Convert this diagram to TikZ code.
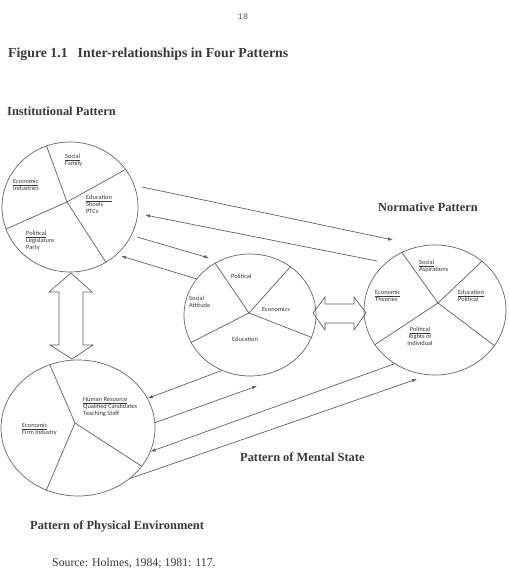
\documentclass[tikz,border=0pt]{standalone}
\usepackage{fontspec}
\setmainfont{Liberation Serif}
\newfontfamily\labelfont{Carlito}
\newfontfamily\pagefont{Liberation Mono}
\usetikzlibrary{arrows.meta,shapes.geometric}

\begin{document}
\begin{tikzpicture}
[
x=1pt, y=-1pt
, >={Latex[length=5pt,width=3.5pt]}
, every node/.style={inner sep=0pt, text=black!78}
, pattern/.style={ellipse, draw=black!60, line width=.7pt}
, link/.style={draw=black!62, line width=.7pt}
, lbl/.style={font=\labelfont\fontsize{6.4}{6.8}\selectfont, align=left, anchor=west}
, head/.style={font=\bfseries\fontsize{12.4}{14}\selectfont, anchor=west}
]

\useasboundingbox (0,0) rectangle (508,577);

% page heading
\node[font=\pagefont\fontsize{8.5}{10}\selectfont, text=black!65] (page) at (243,17) {18};
\node[head, font=\bfseries\fontsize{13.8}{16}\selectfont] (title) at (8,54) {Figure 1.1\hspace{10pt}Inter-relationships in Four Patterns};

% the four patterns
\node[pattern, minimum width=136, minimum height=130] (inst) at (70,207) {};
\node[pattern, minimum width=132, minimum height=122] (mid) at (250,315) {};
\node[pattern, minimum width=142, minimum height=130] (norm) at (435,310) {};
\node[pattern, minimum width=154, minimum height=136] (phys) at (78,428) {};

% sectors
\coordinate (instc) at (67,202);
\coordinate (midc) at (249,313);
\coordinate (normc) at (438,303);
\coordinate (physc) at (75,423);
\foreach \a in {111,34,199,303} \draw[link] (instc) -- (inst.\a);
\foreach \a in {124,50,-20,205} \draw[link] (midc) -- (mid.\a);
\foreach \a in {120,46,-31,210} \draw[link] (normc) -- (norm.\a);
\foreach \a in {114,-31,243} \draw[link] (physc) -- (phys.\a);

% sector labels
\node[lbl] (isoc) at (65,160.5) {\underline{Social}\\Family};
\node[lbl] (ieco) at (13,185) {\underline{Economic}\\Industries};
\node[lbl] (iedu) at (86,204.5) {\underline{Education}\\Shools\\PTCs};
\node[lbl] (ipol) at (26,240.5) {\underline{Political}\\Legislature\\Party};

\node[lbl] (mpol) at (231,276) {Political};
\node[lbl] (msoc) at (189,302) {Social\\Attitude};
\node[lbl] (meco) at (262,309) {Economics};
\node[lbl] (medu) at (232,339) {Education};

\node[lbl] (nsoc) at (419,266) {\underline{Social}\\Aspirations};
\node[lbl] (neco) at (375,296) {\underline{Economic}\\Theories};
\node[lbl] (nedu) at (458,296) {\underline{Education}\\Political};
\node[lbl, align=center, anchor=center] (npol) at (420,336.5) {\underline{Political}\\Rights of\\Individual};

\node[lbl] (phum) at (83,406.7) {\underline{Human Resource}\\Qualified Candidates\\Teaching Staff};
\node[lbl] (peco) at (22,429.5) {\underline{Economic}\\Firm Industry};

% pattern names
\node[head] (ihead) at (7,111) {Institutional Pattern};
\node[head] (nhead) at (378,207) {Normative Pattern};
\node[head] (mhead) at (240,457) {Pattern of Mental State};
\node[head] (phead) at (30,526) {Pattern of Physical Environment};
\node[anchor=west, font=\fontsize{11.8}{14}\selectfont] (source) at (52,563) {Source: Holmes, 1984; 1981: 117.};

% arrows
\coordinate (i1) at (142,187);
\coordinate (i2) at (145,215);
\coordinate (i3) at (137,237);
\coordinate (i4) at (121,256);
\coordinate (n1) at (393,240);
\coordinate (n2) at (377,261);
\coordinate (m1) at (209,258);
\coordinate (m4) at (257,386);
\coordinate (n4) at (417,379);
\draw[link,->] (i1) -- (n1);
\draw[link,->] (n2) -- (i2);
\draw[link,->] (i3) -- (m1);
\draw[link,->] (mid.146) -- (i4);
\draw[link,->] (mid.243) -- (phys.23);
\draw[link,->] (phys.4) -- (m4);
\draw[link,->] (norm.233) -- (phys.-18);
\draw[link,->] (phys.-44) -- (n4);

% big double arrows
\draw[link] (71,273) -- (92,292) -- (83,292) -- (83,345) -- (93,345) -- (72,359)
  -- (50,345) -- (59,345) -- (59,292) -- (49,292) -- cycle;
\draw[link] (313,313) -- (325,297) -- (325,304) -- (354,304) -- (354,297) -- (366,313)
  -- (354,330) -- (354,323) -- (325,323) -- (325,330) -- cycle;

\end{tikzpicture}
\end{document}
